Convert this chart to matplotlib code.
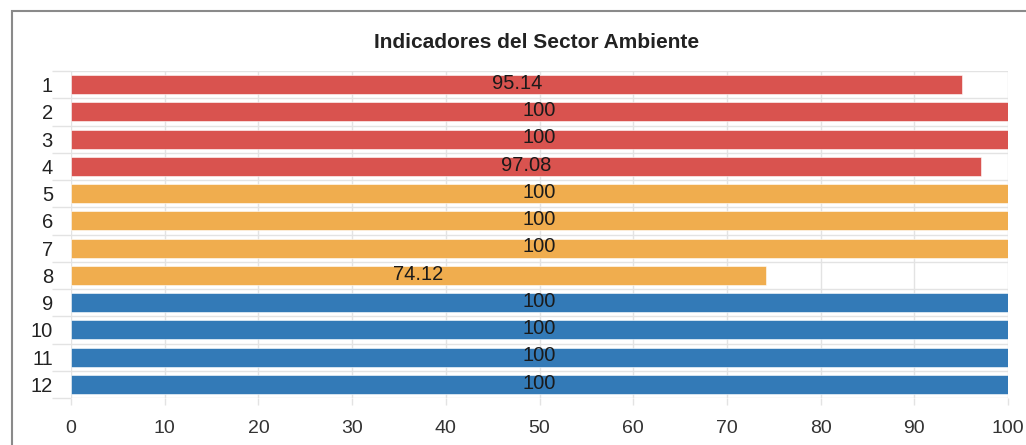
import matplotlib.pyplot as plt
import matplotlib.patches as mpatches
import numpy as np

plt.rcParams['font.family'] = ['Liberation Sans', 'DejaVu Sans']

# Datos
indicadores = ['1', '2', '3', '4', '5', '6', '7', '8', '9', '10', '11', '12']
valores = [95.14, 100, 100, 97.08, 100, 100, 100, 74.12, 100, 100, 100, 100]
etiquetas = ['95.14', '100', '100', '97.08', '100', '100', '100', '74.12',
             '100', '100', '100', '100']
grupos = ['rojo'] * 4 + ['naranja'] * 4 + ['azul'] * 4
colores = {'rojo': '#d9534f', 'naranja': '#f0ad4e', 'azul': '#337ab7'}
xticks = [0, 10, 20, 30, 40, 50, 60, 70, 80, 90, 100]

fig = plt.figure(figsize=(10.26, 4.45), dpi=100)
ax = fig.add_axes([71 / 1026, 1 - 398 / 445, (1008 - 71) / 1026, (398 - 71) / 445])

pos = np.arange(len(indicadores))
ax.barh(pos, valores, height=0.7,
        color=[colores[g] for g in grupos],
        edgecolor='#ffffff', linewidth=0.4, zorder=3)

# etiqueta centrada en cada barra
for p, v, e in zip(pos, valores, etiquetas):
    ax.text(v / 2, p - 0.05, e, ha='center', va='center', fontsize=14.5,
            color='#1a1a1a', zorder=4)

ax.set_xlim(0, 100)
ax.set_ylim(len(indicadores) - 0.5, -0.5)
ax.set_xticks(xticks)
ax.set_yticks(pos)
ax.set_yticklabels(indicadores)
ax.set_yticks(np.arange(-0.5, len(indicadores), 1), minor=True)

ax.grid(axis='x', which='major', color='#e3e3e3', linewidth=1, zorder=0)
ax.grid(axis='y', which='minor', color='#e3e3e3', linewidth=1, zorder=0)
for s in ax.spines.values():
    s.set_visible(False)

ax.tick_params(axis='y', which='major', length=0, pad=13, labelsize=14.5, labelcolor='#222222')
ax.tick_params(axis='y', which='minor', length=14, color='#e3e3e3', width=1)
ax.tick_params(axis='x', which='major', length=5, color='#e3e3e3', width=1,
               pad=11, labelsize=14, labelcolor='#333333')

fig.text((71 + 1008) / 2 / 1026 - 0.003, 1 - 43 / 445, 'Indicadores del Sector Ambiente',
         ha='center', va='center', fontsize=15, fontweight='bold', color='#222222')

marco = mpatches.Rectangle((12 / 1026, -0.1), 1.2, 1 - 11 / 445 + 0.1,
                           transform=fig.transFigure, fill=False,
                           edgecolor='#8a8a8a', linewidth=1.5, clip_on=False)
fig.patches.append(marco)

fig.savefig('out.png', dpi=100)
